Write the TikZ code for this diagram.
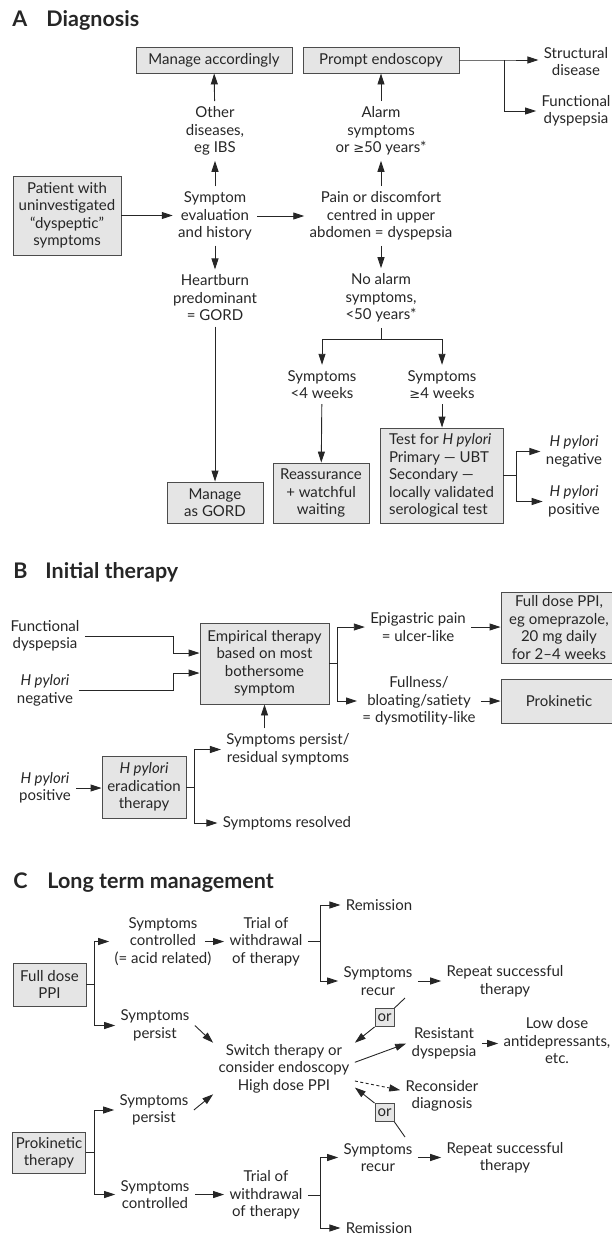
\documentclass[tikz,border=0pt]{standalone}
\usepackage{fontspec}
\setmainfont{Lato}
\newfontfamily\symfont{DejaVu Sans}
\usetikzlibrary{arrows.meta}
\newcommand{\gesym}{{\symfont\fontsize{13}{17.5}\selectfont ≥}}
\newcommand{\hp}{\textit{H pylori}}
\tikzset{
	every node/.style={font=\fontsize{15}{17.5}\selectfont, text=black!85},
	box/.style={draw=black!70, fill=black!10, line width=0.9pt, inner sep=3pt},
	txt/.style={align=center, inner sep=5pt},
	arr/.style={-{Triangle[length=11pt,width=7pt]}},
	ttl/.style={font=\fontsize{21.5}{24}\selectfont\bfseries, anchor=west, inner sep=0pt}
}

\begin{document}
\begin{tikzpicture}[x=1pt,y=-1pt,line width=0.9pt,draw=black!85]
	\useasboundingbox (0,0) rectangle (611,1237);
	%A diagnosis
	\node[ttl] at (12,20) {\makebox[34pt][l]{A}Diagnosis};
	\node[box, minimum width=156pt, minimum height=26pt] (manacc) at (214,60) {Manage accordingly};
	\node[box, minimum width=156pt, minimum height=26pt] (prompt) at (381,60) {Prompt endoscopy};
	\node[txt] (struct) at (576,61.5) {Structural\\disease};
	\node[txt] (funcd) at (576,111) {Functional\\dyspepsia};
	\node[txt] (other) at (215,131) {Other\\diseases,\\eg IBS};
	\node[txt] (alarm) at (381,131) {Alarm\\symptoms\\or \gesym50 years*};
	\node[box, align=center, minimum width=108pt, minimum height=79pt] (patient) at (67,215.5) {Patient with\\uninvestigated\\“dyspeptic”\\symptoms};
	\node[txt] (sympev) at (215,216) {Symptom\\evaluation\\and history};
	\node[txt] (pain) at (381,216) {Pain or discomfort\\centred in upper\\abdomen = dyspepsia};
	\node[txt] (heart) at (215,298) {Heartburn\\predominant\\= GORD};
	\node[txt] (noalarm) at (381,298) {No alarm\\symptoms,\\<50 years*};
	\node[txt] (lt4) at (322,384.5) {Symptoms\\<4 weeks};
	\node[txt] (ge4) at (442,384.5) {Symptoms\\\gesym4 weeks};
	\node[box, align=center, minimum width=96pt, minimum height=41pt] (gord) at (215,502.5) {Manage\\as GORD};
	\node[box, align=center, minimum width=96pt, minimum height=60pt] (reass) at (321,493) {Reassurance\\+ watchful\\waiting};
	\node[box, align=left, minimum width=123pt, minimum height=95pt] (test) at (441.5,475.5) {Test for \hp\\Primary — UBT\\Secondary —\\locally validated\\serological test};
	\node[txt] (hneg) at (574,451.5) {\hp\\negative};
	\node[txt] (hpos) at (574,501.5) {\hp\\positive};
	
	\draw[arr] (patient.east) -- (patient.east -| sympev.west);
	\draw[arr] (sympev) -- (pain);
	\draw[arr] (sympev) -- (other);
	\draw[arr] (other) -- (manacc);
	\draw[arr] (pain) -- (alarm);
	\draw[arr] (alarm) -- (prompt);
	\draw[arr] (sympev) -- (heart);
	\draw[arr] (heart) -- (gord);
	\draw[arr] (pain) -- (noalarm);
	\draw[arr] (prompt.east) -- ++(45,0) coordinate (brA) -- (brA -| struct.west);
	\draw[arr] (brA) |- (funcd.west);
	\coordinate (brB) at (381,339);
	\draw (noalarm) -- (brB);
	\draw[arr] (brB) -| (lt4.north);
	\draw[arr] (brB) -| (ge4.north);
	\draw[arr] (lt4) -- (reass);
	\draw[arr] (ge4) -- (ge4 |- test.north);
	\draw (test.east) -- ++(13,0) coordinate (brC);
	\draw[arr] (brC) |- (hneg.west);
	\draw[arr] (brC) |- (hpos.west);
	
	%B initial therapy
	\node[ttl] at (13,572) {\makebox[32pt][l]{B}Initial therapy};
	\node[box, align=center, minimum width=116pt, minimum height=71pt] (fdpi) at (559,627.5) {Full dose PPI,\\eg omeprazole,\\20 mg daily\\for 2–4 weeks};
	\node[box, minimum width=116pt, minimum height=44pt] (prok) at (559,701) {Prokinetic};
	\node[txt] (funcB) at (45,636) {Functional\\dyspepsia};
	\node[txt] (hnegB) at (45,690.5) {\hp\\negative};
	\node[box, align=center, minimum width=129pt, minimum height=81pt] (emp) at (264.5,663.5) {Empirical therapy\\based on most\\bothersome\\symptom};
	\node[txt] (epi) at (418,627) {Epigastric pain\\= ulcer-like};
	\node[txt] (full) at (419,701) {Fullness/\\bloating/satiety\\= dysmotility-like};
	\node[txt] (persB) at (288,749.5) {Symptoms persist/\\residual symptoms};
	\node[txt] (hposB) at (45,788) {\hp\\positive};
	\node[box, align=center, minimum width=84pt, minimum height=62pt] (erad) at (144,787) {\hp\\eradication\\therapy};
	\node[txt] (resolved) at (287,823) {Symptoms resolved};
	
	\coordinate (xB) at (173,0);
	\coordinate (inB1) at ([yshift=10.5pt]emp.west);
	\coordinate (inB2) at ([yshift=-9.5pt]emp.west);
	\draw[arr] (funcB.east) -| (xB |- inB1) -- (inB1);
	\draw[arr] (hnegB.east) -| (xB |- inB2) -- (inB2);
	\draw (emp.east) -- ++(8,0) coordinate (brD);
	\draw[arr] (brD) |- (epi.west);
	\draw[arr] (brD) |- (full.west);
	\draw[arr] (epi.east) -- (epi.east -| fdpi.west);
	\draw[arr] (full.east) -- (full.east -| prok.west);
	\draw[arr] (persB.north -| emp.south) -- (emp.south);
	\draw[arr] (hposB.east) -- (hposB.east -| erad.west);
	\draw (erad.east) -- ++(8,0) coordinate (brE);
	\draw[arr] (brE) |- (persB.west);
	\draw[arr] (brE) |- (resolved.west);
	
	%C long term management
	\node[ttl] at (13,883) {\makebox[34pt][l]{C}Long term management};
	\node[box, align=center, minimum width=73pt, minimum height=43pt] (fppi) at (49.5,984.5) {Full dose\\PPI};
	\node[txt] (contr1) at (163,941.5) {Symptoms\\controlled\\(= acid related)};
	\node[txt] (trial1) at (266,941.5) {Trial of\\withdrawal\\of therapy};
	\node[txt] (remis1) at (379,905) {Remission};
	\node[txt] (recur1) at (378,981) {Symptoms\\recur};
	\node[txt] (rep1) at (505,981) {Repeat successful\\therapy};
	\node[txt] (pers1) at (155,1025.5) {Symptoms\\persist};
	\node[txt] (switch) at (284,1068.5) {Switch therapy or\\consider endoscopy\\High dose PPI};
	\node[box, inner sep=1pt, minimum width=19pt, minimum height=18pt] (or1) at (384.5,1017.5) {or};
	\node[txt] (resist) at (444,1043.5) {Resistant\\dyspepsia};
	\node[txt] (lowd) at (557,1041) {Low dose\\antidepressants,\\etc.};
	\node[txt] (recon) at (442,1096) {Reconsider\\diagnosis};
	\node[box, inner sep=1pt, minimum width=19pt, minimum height=18pt] (or2) at (384.5,1112.5) {or};
	\node[txt] (pers2) at (154,1110) {Symptoms\\persist};
	\node[box, align=center, minimum width=72pt, minimum height=41pt] (prok2) at (49,1152.5) {Prokinetic\\therapy};
	\node[txt] (contr2) at (155,1194.5) {Symptoms\\controlled};
	\node[txt] (trial2) at (266,1195) {Trial of\\withdrawal\\of therapy};
	\node[txt] (recur2) at (378,1157.5) {Symptoms\\recur};
	\node[txt] (rep2) at (505,1157.5) {Repeat successful\\therapy};
	\node[txt] (remis2) at (379,1228) {Remission};
	
	\coordinate (xG) at (320,0);
	\draw (fppi.east) -- ++(8,0) coordinate (brF);
	\draw[arr] (brF) |- (contr1.west);
	\draw[arr] (brF) |- (pers1.west);
	\draw[arr] ([xshift=-12pt]contr1.east) -- (trial1.west);
	\draw (trial1.east) -- (trial1.east -| xG) coordinate (brG);
	\draw[arr] (brG) |- (remis1.west);
	\draw[arr] (brG) |- (recur1.west);
	\draw[arr] (recur1.east) -- (rep1.west);
	\coordinate (r1) at (405,998);
	\draw (r1) -- (or1.north east);
	\draw[arr] (or1.south west) -- (switch.20);
	\draw[arr] (pers1.east) -- (switch.160);
	\draw[arr] (switch.5) -- (resist.west);
	\draw[arr] (resist.east) -- (resist.east -| lowd.west);
	\draw[arr, dash pattern=on 3pt off 2.5pt] (switch.-10) -- (recon.172);
	\draw[arr] (or2.north west) -- (switch.-15);
	\coordinate (r2) at (405,1137);
	\draw (or2.south east) -- (r2);
	\draw[arr] (pers2.east) -- (switch.-160);
	\draw (prok2.east) -- ++(9,0) coordinate (brH);
	\draw[arr] (brH) |- (pers2.west);
	\draw[arr] (brH) |- (contr2.west);
	\draw[arr] (contr2.east) -- (contr2.east -| trial2.west);
	\draw (trial2.east) -- (trial2.east -| xG) coordinate (brI);
	\draw[arr] (brI) |- (recur2.west);
	\draw[arr] (brI) |- (remis2.west);
	\draw[arr] (recur2.east) -- (rep2.west);
\end{tikzpicture}
\end{document}
